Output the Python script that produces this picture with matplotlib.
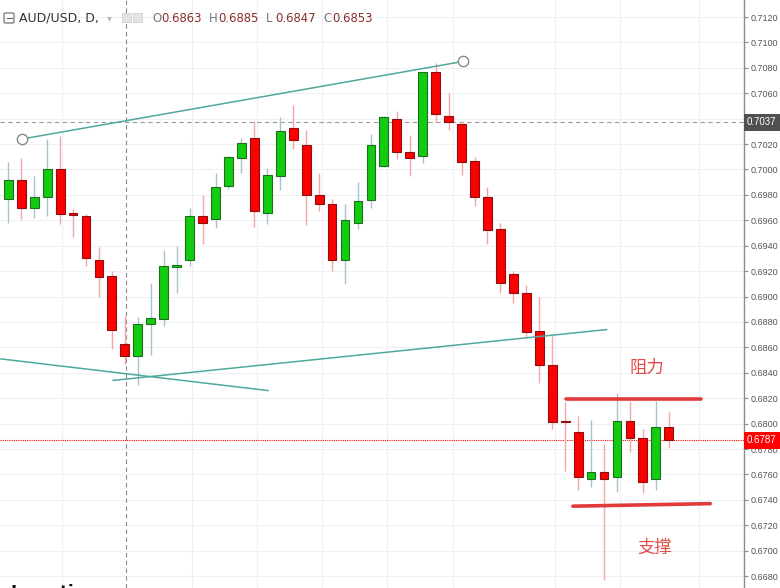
import matplotlib
matplotlib.use("Agg")
import matplotlib.pyplot as plt
from matplotlib.patches import Rectangle, FancyBboxPatch
import numpy as np

# 일봉 데이터 (AUD/USD, D)
opens = [0.6977, 0.6992, 0.6970, 0.6978, 0.7000, 0.6966, 0.6963, 0.6929, 0.6916, 0.6863,
         0.6853, 0.6878, 0.6882, 0.6923, 0.6929, 0.6963, 0.6961, 0.6987, 0.7009, 0.7025,
         0.6966, 0.6995, 0.7033, 0.7019, 0.6980, 0.6973, 0.6929, 0.6958, 0.6976, 0.7003,
         0.7040, 0.7014, 0.7011, 0.7077, 0.7042, 0.7036, 0.7007, 0.6978, 0.6953, 0.6918,
         0.6903, 0.6873, 0.6846, 0.6802, 0.6793, 0.6756, 0.6762, 0.6758, 0.6802, 0.6789,
         0.6756, 0.6797]
highs = [0.7006, 0.7009, 0.6995, 0.7024, 0.7026, 0.6969, 0.6965, 0.6939, 0.6920, 0.6885,
         0.6884, 0.6911, 0.6937, 0.6940, 0.6970, 0.6980, 0.6997, 0.7011, 0.7025, 0.7038,
         0.7001, 0.7041, 0.7051, 0.7031, 0.6997, 0.6977, 0.6973, 0.6990, 0.7028, 0.7042,
         0.7046, 0.7027, 0.7077, 0.7084, 0.7060, 0.7038, 0.7010, 0.6986, 0.6958, 0.6920,
         0.6909, 0.6900, 0.6870, 0.6817, 0.6806, 0.6803, 0.6784, 0.6824, 0.6818, 0.6796,
         0.6818, 0.6809]
lows = [0.6958, 0.6961, 0.6962, 0.6963, 0.6957, 0.6947, 0.6924, 0.6900, 0.6859, 0.6847,
        0.6830, 0.6854, 0.6877, 0.6903, 0.6924, 0.6941, 0.6954, 0.6985, 0.6997, 0.6955,
        0.6957, 0.6984, 0.7016, 0.6956, 0.6967, 0.6920, 0.6910, 0.6953, 0.6970, 0.7002,
        0.7008, 0.6995, 0.7005, 0.7037, 0.7031, 0.6996, 0.6971, 0.6941, 0.6903, 0.6895,
        0.6867, 0.6832, 0.6796, 0.6763, 0.6748, 0.6750, 0.6677, 0.6746, 0.6778, 0.6745,
        0.6748, 0.6781]
closes = [0.6992, 0.6970, 0.6978, 0.7000, 0.6965, 0.6964, 0.6930, 0.6915, 0.6874, 0.6853,
          0.6878, 0.6883, 0.6924, 0.6925, 0.6963, 0.6958, 0.6986, 0.7010, 0.7021, 0.6967,
          0.6996, 0.7030, 0.7023, 0.6980, 0.6973, 0.6929, 0.6960, 0.6975, 0.7019, 0.7041,
          0.7014, 0.7009, 0.7077, 0.7044, 0.7037, 0.7006, 0.6978, 0.6952, 0.6911, 0.6903,
          0.6872, 0.6846, 0.6801, 0.6801, 0.6758, 0.6762, 0.6756, 0.6802, 0.6789, 0.6754,
          0.6797, 0.6787]

# 가격축 눈금 (0.7040 은 0.7037 라벨에 가려짐)
y_ticks = [round(0.6680 + 0.0020 * i, 4) for i in range(23)]
hidden_ticks = [0.7040]
last_price = 0.6787
cross_price = 0.7037
cross_bar = 9
header_ohlc = [("O", "0.6863"), ("H", "0.6885"), ("L", "0.6847"), ("C", "0.6853")]

# 추세선 (봉 인덱스, 가격)
upper_line = [(1.06, 0.7024), (35.1, 0.7085)]
rising_line = [(8.1, 0.6834), (46.2, 0.6874)]
falling_line = [(-0.64, 0.6851), (20.05, 0.6826)]
resistance = [(43.04, 0.6819), (53.5, 0.6819)]
support = [(43.6, 0.6735), (54.2, 0.6737)]
resistance_label = (49.3, 0.6844, "阻力")
support_label = (49.9, 0.6702, "支撑")
vgrid = [4.12, 14.16, 19.18, 24.2, 29.22, 34.32, 42.22, 47.27, 53.36]

W, H = 780, 588
fig = plt.figure(figsize=(W / 100, H / 100), dpi=100)
ax = fig.add_axes([0, 0, 744 / W, 1])
ax.set_xlim(-0.641, 56.81)
ax.set_ylim(0.66706, 0.71334)

# 그리드
for p in y_ticks:
    ax.axhline(p, color="#eef0f3", lw=0.8, zorder=0)
for gx in vgrid:
    ax.axvline(gx, color="#eef0f3", lw=0.8, zorder=0)

# 십자선, 현재가 라인
ax.axvline(cross_bar + 0.08, color="#888888", lw=0.8, ls=(0, (4, 3)), zorder=1)
ax.axhline(cross_price, color="#999999", lw=0.8, ls=(0, (4, 3)), zorder=1)
ax.axhline(last_price, color="#ff0000", lw=0.8, ls=(0, (1, 1)), zorder=1)

# 캔들
x = np.arange(len(opens))
for i in x:
    o, h, l, c = opens[i], highs[i], lows[i], closes[i]
    up = c >= o
    wick_c = "#a9c3cc" if up else "#f2a8a8"
    body_c = "#11cc11" if up else "#ff0000"
    edge_c = "#1d6f1d" if up else "#8b1010"
    ax.vlines(i, l, h, color=wick_c, lw=1.0, zorder=2)
    bottom = min(o, c)
    height = max(abs(c - o), 0.00006)
    ax.add_patch(Rectangle((i - 0.34, bottom), 0.68, height, facecolor=body_c,
                           edgecolor=edge_c, lw=0.8, zorder=3))

# 추세선
teal = "#4fa89c"
for line in (upper_line, rising_line, falling_line):
    xs, ys = zip(*line)
    ax.plot(xs, ys, color=teal, lw=1.1, zorder=4)
xs, ys = zip(*upper_line)
ax.scatter(xs, ys, s=55, facecolor="white", edgecolor="#888888", lw=1.0, zorder=5)

for line in (resistance, support):
    xs, ys = zip(*line)
    ax.plot(xs, ys, color="#e03a3a", lw=2.6, solid_capstyle="round", zorder=4)

cjk = ["Noto Sans CJK SC", "DejaVu Sans"]
for lx, ly, txt in (resistance_label, support_label):
    ax.text(lx, ly, txt, color="#e24a48", fontsize=12.5, ha="center", va="center",
            family=cjk, zorder=6)

# 오른쪽 가격축
for s in ("top", "left", "bottom"):
    ax.spines[s].set_visible(False)
ax.spines["right"].set_color("#8c8c8c")
ax.spines["right"].set_linewidth(1.0)
ax.yaxis.tick_right()
ax.set_yticks(y_ticks)
ax.set_yticklabels(["" if p in hidden_ticks else f"{p:.4f}" for p in y_ticks])
ax.tick_params(axis="y", direction="out", length=3, width=0.8, color="#8c8c8c",
               labelsize=6.5, labelcolor="#555555", pad=2)
for t in ax.get_yticklabels():
    t.set_family("Liberation Sans")
ax.set_xticks([])

ytr = ax.get_yaxis_transform()
for p, fc in ((cross_price, "#505050"), (last_price, "#ff0000")):
    ax.text(1.004, p, f"{p:.4f}", transform=ytr, ha="left", va="center", color="white",
            fontsize=7, family="Liberation Sans", clip_on=False, zorder=10,
            bbox=dict(boxstyle="square,pad=0.35", fc=fc, ec="none"))

# 상단 헤더
fy = lambda py: 1 - py / H
fig.patches.append(FancyBboxPatch((4 / W, fy(23)), 10 / W, 10 / H,
                                  boxstyle="round,pad=0,rounding_size=0.002",
                                  transform=fig.transFigure, fc="white", ec="#666666", lw=0.8))
fig.lines.append(plt.Line2D([6.5 / W, 11.5 / W], [fy(18), fy(18)], transform=fig.transFigure,
                            color="#666666", lw=0.8))
fig.text(19 / W, fy(18), "AUD/USD, D,", fontsize=9, color="#333333", va="center",
         family="DejaVu Sans")
fig.text(107 / W, fy(18), "▾", fontsize=7, color="#bbbbbb", va="center")
for px in (122, 133):
    fig.patches.append(Rectangle((px / W, fy(22)), 9 / W, 9 / H, transform=fig.transFigure,
                                 fc="#e4e4e4", ec="#d0d0d0", lw=0.6))
lx = 152
for letter, val in header_ohlc:
    fig.text(lx / W, fy(18), letter, fontsize=8.4, color="#777777", va="center",
             family="DejaVu Sans")
    fig.text((lx + 9.5) / W, fy(18), val, fontsize=8.4, color="#8b2c2c", va="center",
             family="DejaVu Sans")
    lx += 57

# 하단 로고 (잘림)
fig.text(10 / W, fy(584), "Investing", fontsize=12, fontweight="bold", color="#111111",
         va="top", family="DejaVu Sans")

fig.savefig("out.png", dpi=100)
